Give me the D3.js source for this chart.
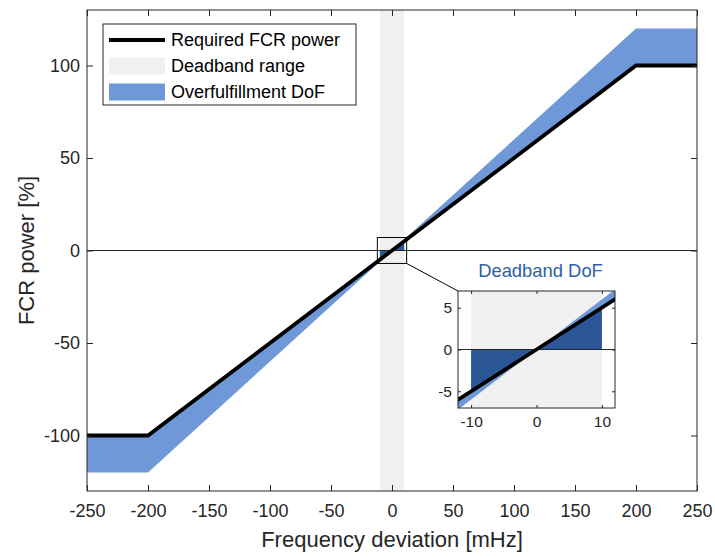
<!DOCTYPE html>
<html>
<head>
<meta charset="utf-8">
<script src="https://cdn.jsdelivr.net/npm/d3@7"></script>
<style>
  html, body { margin: 0; padding: 0; background: #fff; }
  svg { display: block; font-family: "Liberation Sans", Arial, Helvetica, sans-serif; }
</style>
</head>
<body>
<svg id="chart" width="715" height="557"></svg>
<script>
// ---------------- data ----------------
const freqPoints = [-250, -200, 0, 200, 250];          // mHz breakpoints
const requiredPower = [-100, -100, 0, 100, 100];       // Required FCR power [%]
const overUpper = [-100, -100, 0, 120, 120];           // Overfulfillment DoF upper edge
const overLower = [-120, -120, 0, 100, 100];           // Overfulfillment DoF lower edge
const deadbandRange = [-10, 10];                       // Deadband range [mHz]
const deadbandX = [-10, 0, 10];                        // Deadband DoF points
const deadbandDoF = [-5, 0, 5];                        // Deadband DoF (to required line)
const xTicks = [-250, -200, -150, -100, -50, 0, 50, 100, 150, 200, 250];
const yTicks = [-100, -50, 0, 50, 100];
const insetXTicks = [-10, 0, 10];
const insetYTicks = [-5, 0, 5];
const legendLabels = ["Required FCR power", "Deadband range", "Overfulfillment DoF"];

// ---------------- styles ----------------
const axisColor = "#262626";
const lightBlue = "#6f98d8";
const darkBlue = "#2b5797";
const grayBand = "#f0f0f0";
const titleBlue = "#2e5fa8";
const fontFam = '"Liberation Sans", Arial, Helvetica, sans-serif';

const svg = d3.select("#chart");

const mainBox = { left: 87, right: 697, top: 10, bottom: 491 };
const x = d3.scaleLinear().domain([-250, 250]).range([mainBox.left, mainBox.right]);
const y = d3.scaleLinear().domain([-130, 130]).range([mainBox.bottom, mainBox.top]);

const insetBox = { left: 458, right: 615, top: 291, bottom: 408 };
const xi = d3.scaleLinear().domain([-12, 12]).range([insetBox.left, insetBox.right]);
const yi = d3.scaleLinear().domain([-7, 7]).range([insetBox.bottom, insetBox.top]);

const defs = svg.append("defs");
defs.append("clipPath").attr("id", "clipMain").append("rect")
  .attr("x", mainBox.left).attr("y", mainBox.top)
  .attr("width", mainBox.right - mainBox.left).attr("height", mainBox.bottom - mainBox.top);
defs.append("clipPath").attr("id", "clipInset").append("rect")
  .attr("x", insetBox.left).attr("y", insetBox.top)
  .attr("width", insetBox.right - insetBox.left).attr("height", insetBox.bottom - insetBox.top);

function drawPanel(g, sx, sy, lineW) {
  const [d0, d1] = sy.domain();
  // deadband background
  g.append("rect")
    .attr("x", sx(deadbandRange[0])).attr("width", sx(deadbandRange[1]) - sx(deadbandRange[0]))
    .attr("y", sy(d1)).attr("height", sy(d0) - sy(d1))
    .attr("fill", grayBand);
  // overfulfillment band
  const band = d3.area()
    .x((d, i) => sx(freqPoints[i]))
    .y0((d, i) => sy(overLower[i]))
    .y1((d, i) => sy(overUpper[i]));
  g.append("path").datum(freqPoints).attr("d", band).attr("fill", lightBlue);
  // deadband DoF
  const dof = d3.area()
    .x((d, i) => sx(deadbandX[i]))
    .y0(() => sy(0))
    .y1((d, i) => sy(deadbandDoF[i]));
  g.append("path").datum(deadbandX).attr("d", dof).attr("fill", darkBlue);
  // zero line
  g.append("line")
    .attr("x1", sx.range()[0]).attr("x2", sx.range()[1])
    .attr("y1", sy(0)).attr("y2", sy(0))
    .attr("stroke", axisColor).attr("stroke-width", 1);
  // required line
  const line = d3.line().x((d, i) => sx(freqPoints[i])).y((d, i) => sy(requiredPower[i]));
  g.append("path").datum(freqPoints).attr("d", line)
    .attr("fill", "none").attr("stroke", "#000").attr("stroke-width", lineW)
    .attr("stroke-linejoin", "miter");
}

function drawAxes(sx, sy, box, xt, yt, tickLen, fontSize, padX, padY) {
  const g = svg.append("g");
  const fmt = d => String(d);
  const ax = d3.axisBottom(sx).tickValues(xt).tickFormat(fmt).tickSizeInner(-tickLen).tickSizeOuter(0).tickPadding(padX);
  const gx = g.append("g").attr("transform", `translate(0,${box.bottom})`).call(ax);
  const axt = d3.axisTop(sx).tickValues(xt).tickFormat("").tickSizeInner(-tickLen).tickSizeOuter(0);
  const gxt = g.append("g").attr("transform", `translate(0,${box.top})`).call(axt);
  const ay = d3.axisLeft(sy).tickValues(yt).tickFormat(fmt).tickSizeInner(-tickLen).tickSizeOuter(0).tickPadding(padY);
  const gy = g.append("g").attr("transform", `translate(${box.left},0)`).call(ay);
  const ayr = d3.axisRight(sy).tickValues(yt).tickFormat("").tickSizeInner(-tickLen).tickSizeOuter(0);
  const gyr = g.append("g").attr("transform", `translate(${box.right},0)`).call(ayr);
  [gx, gxt, gy, gyr].forEach(a => {
    a.select(".domain").remove();
    a.selectAll(".tick line").attr("stroke", axisColor).attr("stroke-width", 1);
    a.selectAll(".tick text").attr("fill", axisColor)
      .style("font-size", fontSize + "px")
      .style("font-family", fontFam);
  });
  g.append("rect")
    .attr("x", box.left).attr("y", box.top)
    .attr("width", box.right - box.left).attr("height", box.bottom - box.top)
    .attr("fill", "none").attr("stroke", axisColor).attr("stroke-width", 1);
  return g;
}

// ---------------- main panel ----------------
const gMain = svg.append("g").attr("clip-path", "url(#clipMain)");
drawPanel(gMain, x, y, 3.8);
drawAxes(x, y, mainBox, xTicks, yTicks, 6, 18, 13.5, 7);

// zoom rectangle in main panel
svg.append("rect")
  .attr("x", x(-12)).attr("y", y(7))
  .attr("width", x(12) - x(-12)).attr("height", y(-7) - y(7))
  .attr("fill", "none").attr("stroke", "#000").attr("stroke-width", 1);
// connector line
svg.append("line")
  .attr("x1", x(12)).attr("y1", y(-7))
  .attr("x2", insetBox.left).attr("y2", insetBox.top)
  .attr("stroke", "#000").attr("stroke-width", 1);

// axis labels
svg.append("text")
  .attr("x", (mainBox.left + mainBox.right) / 2).attr("y", 547)
  .attr("text-anchor", "middle").attr("fill", axisColor)
  .style("font-size", "22px")
  .text("Frequency deviation [mHz]");
svg.append("text")
  .attr("transform", `translate(34,${(mainBox.top + mainBox.bottom) / 2}) rotate(-90)`)
  .attr("text-anchor", "middle").attr("fill", axisColor)
  .style("font-size", "22px")
  .text("FCR power [%]");

// ---------------- legend ----------------
const lg = svg.append("g");
lg.append("rect").attr("x", 103).attr("y", 24).attr("width", 253).attr("height", 81)
  .attr("fill", "#fff").attr("stroke", axisColor).attr("stroke-width", 1);
const rowY = [40, 66, 92];
lg.append("line").attr("x1", 109).attr("x2", 165).attr("y1", rowY[0]).attr("y2", rowY[0])
  .attr("stroke", "#000").attr("stroke-width", 3.8);
lg.append("rect").attr("x", 109).attr("y", rowY[1] - 8.5).attr("width", 56).attr("height", 17).attr("fill", grayBand);
lg.append("rect").attr("x", 109).attr("y", rowY[2] - 8.5).attr("width", 56).attr("height", 17).attr("fill", lightBlue);
legendLabels.forEach((t, i) => {
  lg.append("text").attr("x", 171).attr("y", rowY[i]).attr("dy", "0.35em")
    .attr("fill", "#000").style("font-size", "18px").text(t);
});

// ---------------- inset ----------------
svg.append("rect").attr("x", insetBox.left).attr("y", insetBox.top)
  .attr("width", insetBox.right - insetBox.left).attr("height", insetBox.bottom - insetBox.top)
  .attr("fill", "#fff");
const gInset = svg.append("g").attr("clip-path", "url(#clipInset)");
drawPanel(gInset, xi, yi, 3.8);
drawAxes(xi, yi, insetBox, insetXTicks, insetYTicks, 3, 15.5, 8, 6);

svg.append("text")
  .attr("x", (insetBox.left + insetBox.right) / 2 + 4).attr("y", 277)
  .attr("text-anchor", "middle").attr("fill", titleBlue)
  .style("font-size", "18.4px")
  .text("Deadband DoF");
</script>
</body>
</html>
